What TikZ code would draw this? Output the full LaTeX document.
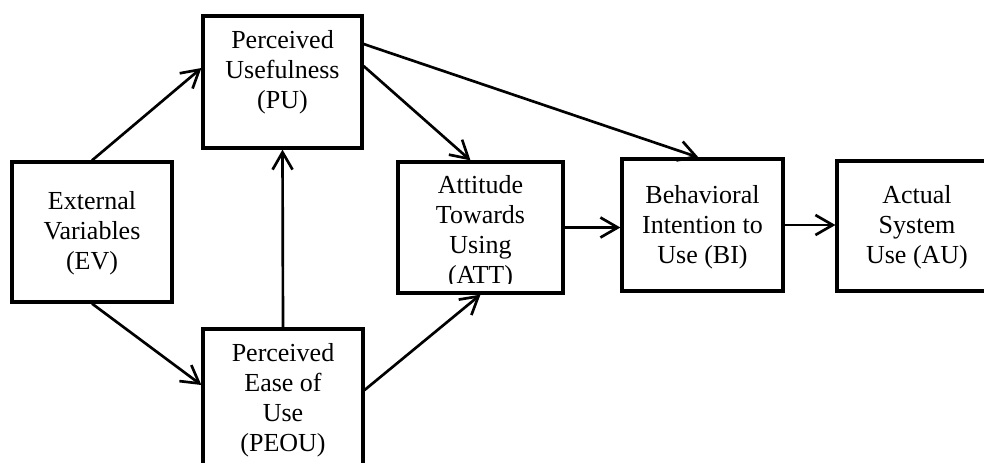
\documentclass[tikz,border=0pt]{standalone}
\usepackage{fontspec}
\setmainfont{Liberation Serif}
\usetikzlibrary{arrows.meta}

\tikzset{
    box/.style={draw, line width=2.4pt, inner sep=0pt},
    txt/.style={align=center, inner sep=0pt, font=\fontsize{19.5}{22.5}\selectfont},
    link/.style={->, line width=2pt},
}

\begin{document}
\begin{tikzpicture}[x=0.75pt, y=-0.75pt, >={Straight Barb[length=13pt, width=15pt]}]
    \clip (0,0) rectangle (984,462);

    % boxes
    \node[box, minimum width=120pt, minimum height=105pt] (ev) at (92,232) {};
    \node[box, minimum width=119.25pt, minimum height=99pt] (pu) at (282.5,82) {};
    \node[box, minimum width=120pt, minimum height=102pt] (peou) at (283,397) {};
    \node[box, minimum width=123.75pt, minimum height=98.25pt] (att) at (480.5,227.5) {};
    \node[box, minimum width=120.75pt, minimum height=99pt] (bi) at (702.5,225) {};
    \node[box, minimum width=120pt, minimum height=97.5pt] (au) at (917,226) {};

    % texts
    \node[txt] (ev-txt) at (92,233) {External\\Variables\\(EV)};
    \node[txt] (pu-txt) at (282.5,72) {Perceived\\Usefulness\\(PU)};
    \node[txt] (peou-txt) at (283,400) {Perceived\\Ease of\\Use\\(PEOU)};
    \begin{scope}
        \clip ([yshift=8.25pt]att.south west) rectangle (att.north east);
        \node[txt] (att-txt) at (480.5,232.5) {Attitude\\Towards\\Using\\(ATT)};
    \end{scope}
    \node[txt] (bi-txt) at (702.5,227) {Behavioral\\Intention to\\Use (BI)};
    \node[txt] (au-txt) at (917,227) {Actual\\System\\Use (AU)};

    % arrows
    \draw[link] (ev.north) -- ([yshift=10.5pt]pu.west);
    \draw[link] (ev.south) -- ([yshift=9pt]peou.west);
    \draw[link] (peou.north) -- (pu.south);
    \draw[link] ([yshift=12pt]pu.east) -- ([xshift=-7.5pt]att.north);
    \draw[link] ([yshift=28.5pt]pu.east) -- ([xshift=-3pt]bi.north);
    \draw[link] ([yshift=5.25pt]peou.east) -- (att.south);
    \draw[link] (att.east) -- (att.east -| bi.west);
    \draw[link] (bi.east) -- (bi.east -| au.west);
\end{tikzpicture}
\end{document}
